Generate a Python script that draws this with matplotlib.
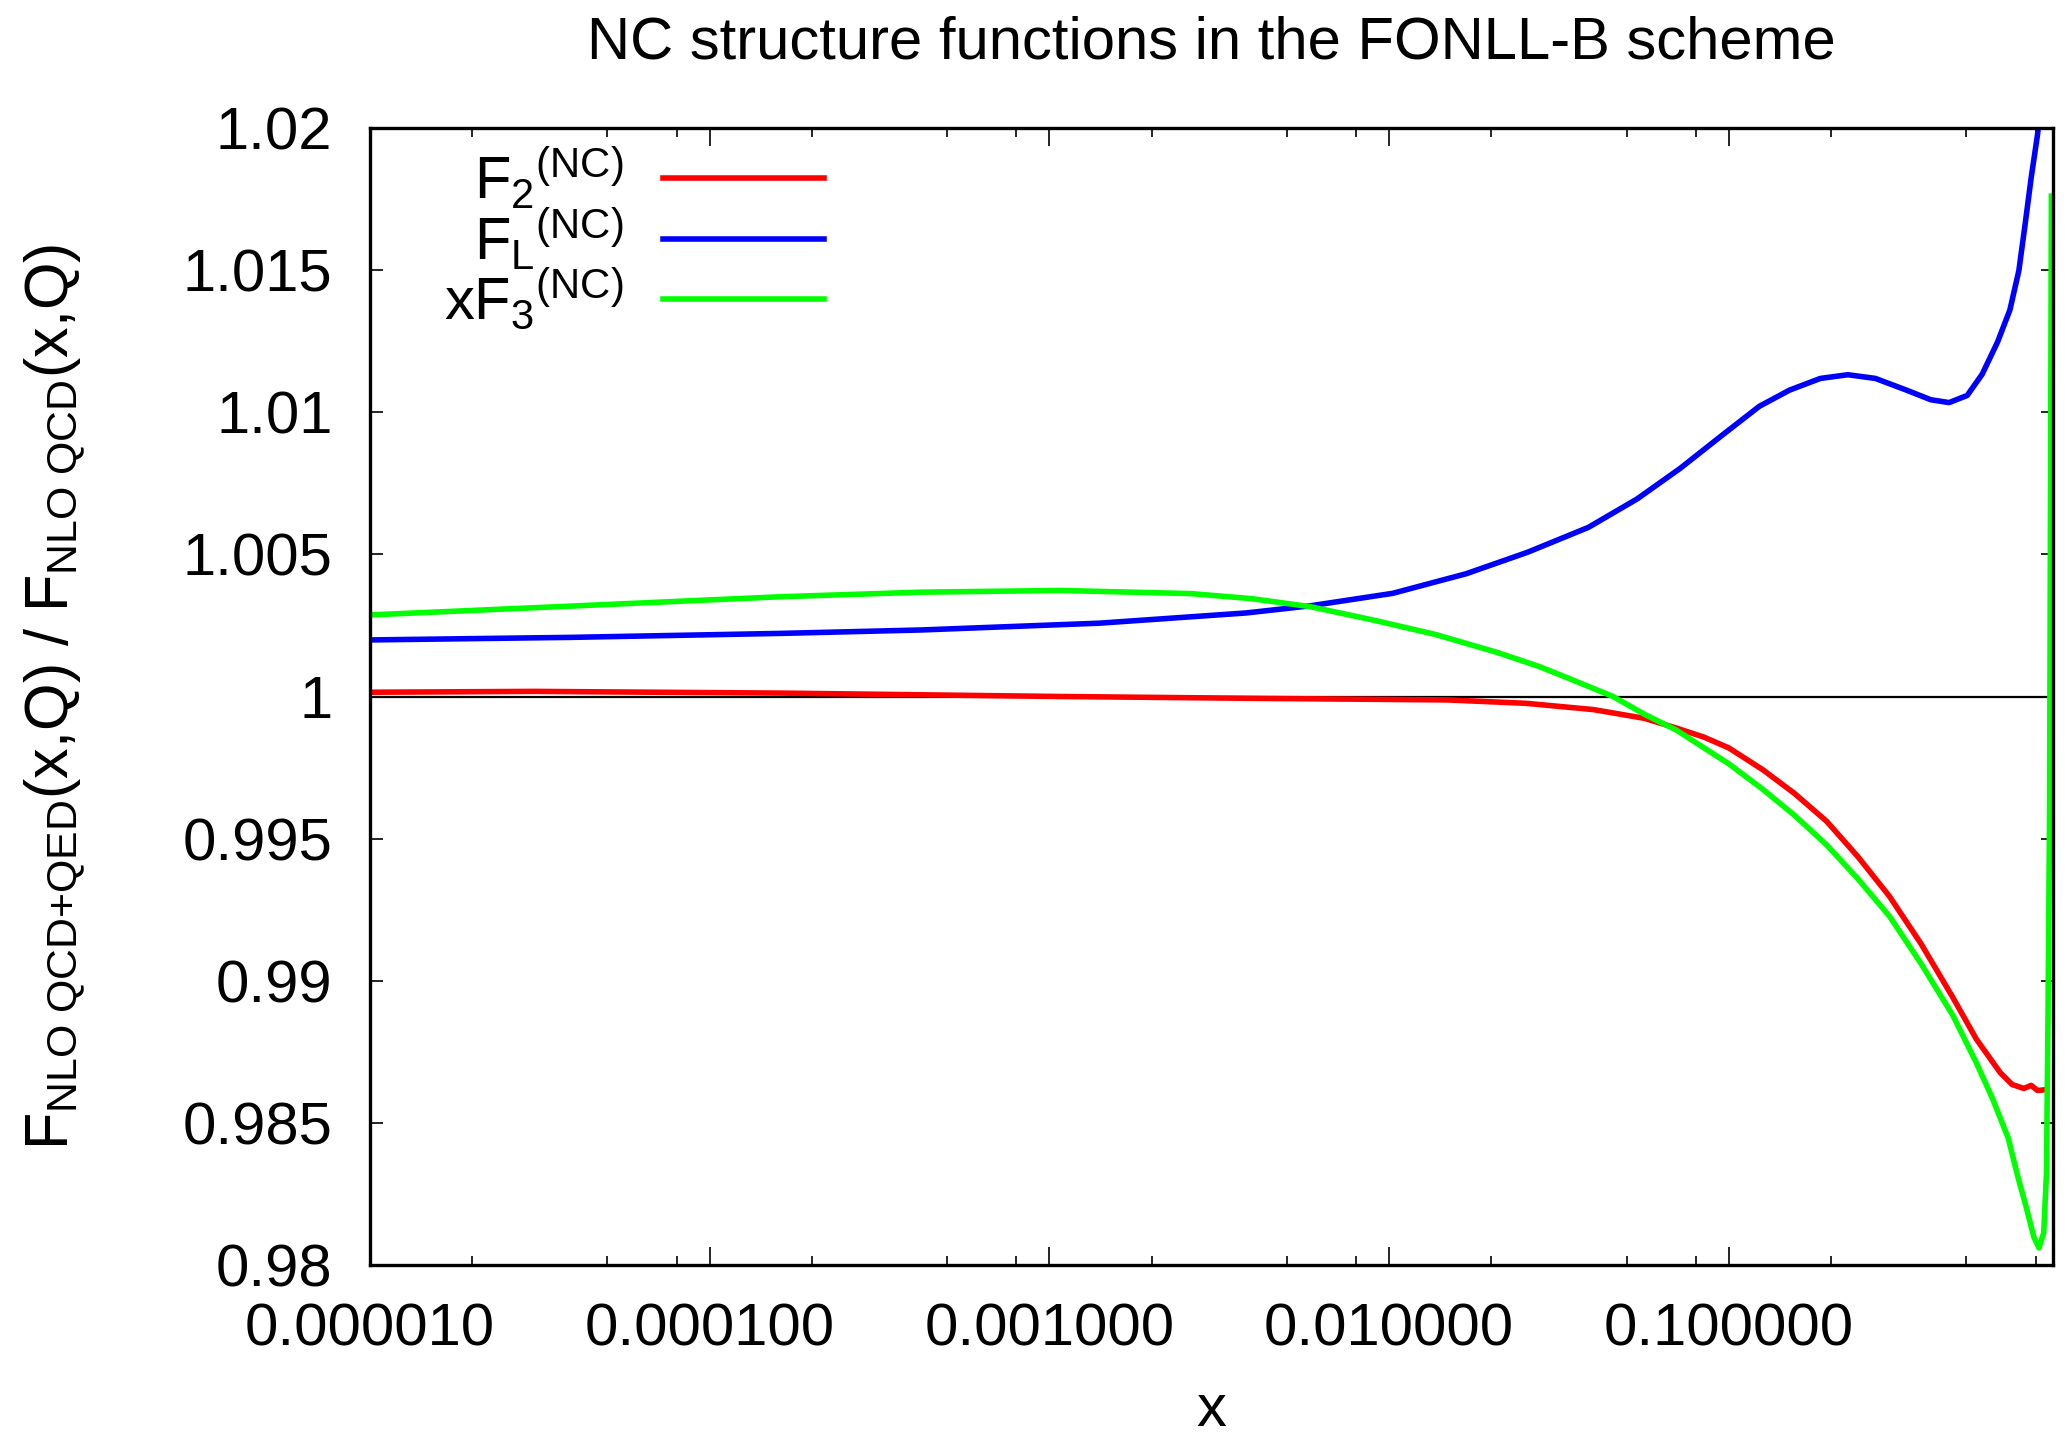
import matplotlib
matplotlib.use("Agg")
from matplotlib import pyplot as plt
from matplotlib.ticker import LogLocator, FixedLocator, FuncFormatter, NullFormatter

# values
f2_x = [1e-5, 3.05e-5, 1.62e-4, 1.08e-3, 4.5e-3, 0.0148, 0.0253, 0.0399, 0.0565, 0.070,
        0.0845, 0.1, 0.126, 0.156, 0.194, 0.24, 0.297, 0.368, 0.456, 0.535, 0.629, 0.682,
        0.739, 0.776, 0.81, 0.863]
f2_y = [1.00015, 1.00018, 1.00012, 1.0, 0.99993, 0.99988, 0.99976, 0.99954, 0.99923, 0.99889,
        0.99857, 0.99819, 0.99742, 0.99659, 0.99561, 0.99436, 0.99297, 0.9913, 0.98942, 0.98795,
        0.98677, 0.98635, 0.98621, 0.98632, 0.98614, 0.98617]

fl_x = [1e-5, 3.9e-5, 1.62e-4, 4.18e-4, 1.405e-3, 3.8e-3, 5.86e-3, 0.01025, 0.01687, 0.0255,
        0.0386, 0.0537, 0.0718, 0.096, 0.123, 0.151, 0.186, 0.224, 0.270, 0.333, 0.393, 0.445,
        0.503, 0.557, 0.618, 0.672, 0.714, 0.745, 0.776, 0.81, 0.84]
fl_y = [1.00199, 1.00208, 1.00222, 1.00234, 1.00258, 1.00294, 1.00319, 1.00363, 1.00432, 1.00507,
        1.00595, 1.00695, 1.00802, 1.00921, 1.01021, 1.01078, 1.01119, 1.01132, 1.01119, 1.01078,
        1.01044, 1.01034, 1.01059, 1.01134, 1.01247, 1.0136, 1.01498, 1.01661, 1.01824, 1.01975,
        1.0215]

f3_x = [1e-5, 3.9e-5, 1.62e-4, 4.18e-4, 1.08e-3, 2.61e-3, 3.95e-3, 5.86e-3, 9.05e-3, 0.0137,
        0.0208, 0.0277, 0.0331, 0.0456, 0.0565, 0.070, 0.1, 0.126, 0.156, 0.194, 0.24, 0.297,
        0.368, 0.456, 0.535, 0.597, 0.664, 0.71, 0.748, 0.79, 0.818, 0.845, 0.861, 0.87, 0.879,
        0.882, 0.89]
f3_y = [1.00287, 1.00318, 1.00351, 1.00367, 1.00373, 1.00362, 1.00344, 1.00316, 1.00268, 1.00218,
        1.00155, 1.00105, 1.00068, 1.0, 0.99937, 0.99882, 0.99763, 0.99673, 0.99582, 0.99478,
        0.99358, 0.99227, 0.9906, 0.98879, 0.98712, 0.98586, 0.98447, 0.98308, 0.9821, 0.98099,
        0.9806, 0.98113, 0.98322, 0.98879, 0.99575, 1.0013, 1.0176]

labels = [r"$F_{2}{}^{(\mathrm{NC})}$", r"$F_{L}{}^{(\mathrm{NC})}$", r"$xF_{3}{}^{(\mathrm{NC})}$"]
colors = ["#ff0000", "#0000ff", "#00ff00"]

y_ticks = [0.98, 0.985, 0.99, 0.995, 1.0, 1.005, 1.01, 1.015, 1.02]

plt.rcParams["font.family"] = ["Liberation Sans", "DejaVu Sans"]
plt.rcParams["mathtext.fontset"] = "custom"
plt.rcParams["mathtext.rm"] = "Liberation Sans"
plt.rcParams["mathtext.it"] = "Liberation Sans"
plt.rcParams["mathtext.bf"] = "Liberation Sans:bold"

fig = plt.figure(figsize=(20.67, 14.39), dpi=100)
ax = fig.add_axes([370 / 2067, 1 - 1265 / 1439, 1683 / 2067, 1137 / 1439])

ax.axhline(1.0, color="black", lw=1.6, zorder=1)
for xs, ys, lab, c in zip([f2_x, fl_x, f3_x], [f2_y, fl_y, f3_y], labels, colors):
    ax.plot(xs, ys, color=c, lw=4.0, label=lab, zorder=2)

ax.set_xscale("log")
ax.set_xlim(1e-5, 0.9)
ax.set_ylim(0.98, 1.02)

ax.xaxis.set_major_locator(LogLocator(base=10, numticks=20))
ax.xaxis.set_minor_locator(LogLocator(base=10, subs=[2, 5, 8], numticks=20))
ax.xaxis.set_major_formatter(FuncFormatter(lambda v, p: "%f" % v))
ax.xaxis.set_minor_formatter(NullFormatter())
ax.yaxis.set_major_locator(FixedLocator(y_ticks))
ax.yaxis.set_major_formatter(FuncFormatter(lambda v, p: "%g" % round(v, 4)))

ax.tick_params(which="both", direction="in", top=True, right=True, labelsize=43, pad=27)
ax.tick_params(axis="x", which="major", length=13, width=1.2)
ax.tick_params(axis="x", which="minor", length=6.5, width=1.2)
ax.tick_params(axis="y", which="major", length=9, width=1.2)
for s in ax.spines.values():
    s.set_linewidth(2.4)

ax.set_title("NC structure functions in the FONLL-B scheme", fontsize=43, pad=50)
ax.set_xlabel("x", fontsize=43)
ax.xaxis.set_label_coords(0.5, -0.104)
ax.set_ylabel(r"$F_{\mathrm{NLO\ QCD{+}QED}}(x{,}Q)\ /\ F_{\mathrm{NLO\ QCD}}(x{,}Q)$", fontsize=44)
ax.yaxis.set_label_coords(-0.168, 0.5)

leg = ax.legend(loc="upper left", bbox_to_anchor=(0.03, 1.007), frameon=False, markerfirst=False,
                fontsize=43, handlelength=2.7, handletextpad=0.65, labelspacing=-0.1,
                borderaxespad=0)

fig.savefig("out.png", dpi=100)
